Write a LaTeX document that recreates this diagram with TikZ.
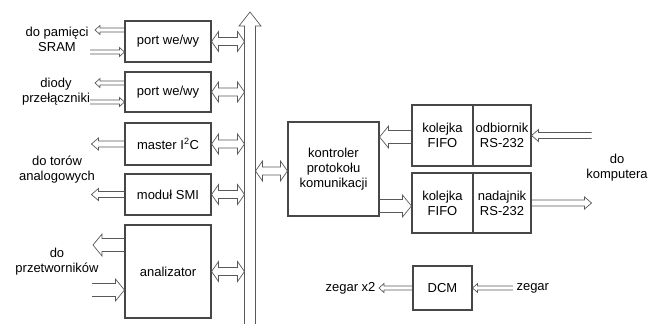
\documentclass[tikz,border=0pt]{standalone}
\usepackage{fontspec}
\setmainfont{Liberation Sans}
\usepackage{tikz}
\usetikzlibrary{calc,positioning}

\tikzset{
  % hollow block arrow, horizontal, open tail
  harrow/.style={draw=black!65, line width=0.7pt, to path={
    let \p1=(\tikztostart), \p2=(\tikztotarget), \n1={sign(\x2-\x1)} in
    (\x1,\y1+\aw) -- (\x2-\n1*\al,\y1+\aw) -- (\x2-\n1*\al,\y1+\ah) -- (\x2,\y1)
    -- (\x2-\n1*\al,\y1-\ah) -- (\x2-\n1*\al,\y1-\aw) -- (\x1,\y1-\aw)}},
  % hollow block arrow with two heads
  hharrow/.style={draw=black!65, line width=0.7pt, to path={
    let \p1=(\tikztostart), \p2=(\tikztotarget), \n1={sign(\x2-\x1)} in
    (\x1,\y1) -- (\x1+\n1*\al,\y1+\ah) -- (\x1+\n1*\al,\y1+\aw) -- (\x2-\n1*\al,\y1+\aw)
    -- (\x2-\n1*\al,\y1+\ah) -- (\x2,\y1) -- (\x2-\n1*\al,\y1-\ah) -- (\x2-\n1*\al,\y1-\aw)
    -- (\x1+\n1*\al,\y1-\aw) -- (\x1+\n1*\al,\y1-\ah) -- cycle}},
  % vertical one for the bus
  varrow/.style={draw=black!65, line width=0.7pt, to path={
    let \p1=(\tikztostart), \p2=(\tikztotarget), \n1={sign(\y2-\y1)} in
    (\x1+\aw,\y1) -- (\x1+\aw,\y2-\n1*\al) -- (\x1+\ah,\y2-\n1*\al) -- (\x1,\y2)
    -- (\x1-\ah,\y2-\n1*\al) -- (\x1-\aw,\y2-\n1*\al) -- (\x1-\aw,\y1)}},
  asize/.code args={#1/#2/#3}{\def\aw{#1}\def\ah{#2}\def\al{#3}},
  sarr/.style={harrow, asize=2pt/4.5pt/5pt},
  marr/.style={harrow, asize=3pt/6pt/7pt},
  larr/.style={harrow, asize=6.5pt/11pt/9pt},
  barr/.style={hharrow, asize=4pt/10pt/7pt},
  busarr/.style={varrow, asize=5.5pt/11pt/14pt}
}

\begin{document}
\begin{tikzpicture}[x=1pt, y=-1pt, font=\fontsize{13}{15}\selectfont,
  blk/.style={draw=black!72, line width=1.1pt, align=center, inner sep=1pt}]
  \useasboundingbox (0,0) rectangle (651,324);

  % left column of modules
  \node[blk, minimum width=86pt, minimum height=41pt] (port1) at (168,41.5) {port we/wy};
  \node[blk, minimum width=86pt, minimum height=40pt] (port2) at (168,92) {port we/wy};
  \node[blk, minimum width=86pt, minimum height=42pt] (master) at (168,144) {master I\textsuperscript{2}C};
  \node[blk, minimum width=86pt, minimum height=41pt] (smi) at (168,194.5) {moduł SMI};
  \node[blk, minimum width=86pt, minimum height=93pt] (anal) at (168,271.5) {analizator};

  % internal bus
  \coordinate (busB) at (250,324);
  \coordinate (busT) at (250,12);
  \coordinate (busL) at (244.5,0);
  \coordinate (busR) at (255.5,0);
  \draw[busarr] (busB) to (busT);
  \foreach \b in {port1,port2,master,smi,anal}
    \draw[barr] (\b.east) to (\b.east -| busL);

  % protocol controller and serial link
  \node[blk, minimum width=91pt, minimum height=94pt] (kont) at (333.5,169)
       {kontroler\\protokołu\\komunikacji};
  \draw[barr] (busR |- 0,171) to (kont.west |- 0,171);
  \node[blk, minimum width=61pt, minimum height=61pt] (fifoR) at (442.5,135.5) {kolejka\\FIFO};
  \node[blk, minimum width=58pt, minimum height=61pt, right=-1.1pt of fifoR] (odb) {odbiornik\\RS-232};
  \node[blk, minimum width=61pt, minimum height=60pt] (fifoT) at (442.5,203) {kolejka\\FIFO};
  \node[blk, minimum width=58pt, minimum height=60pt, right=-1.1pt of fifoT] (nad) {nadajnik\\RS-232};
  \draw[larr] (fifoR.west |- 0,137) to (kont.east |- 0,137);
  \draw[larr] (kont.east |- 0,206) to (fifoT.west |- 0,206);
  \draw[marr] ([xshift=60pt]odb.east) to (odb.east);
  \draw[marr] (nad.east) to ([xshift=60pt]nad.east);
  \node[align=center] (komp) at (617,168) {do\\komputera};

  % clock
  \node[blk, minimum width=59pt, minimum height=44pt] (dcm) at (442.5,288) {DCM};
  \node[anchor=east] (zx2) at (379,288) {zegar x2};
  \node[anchor=west] (zeg) at (513,288) {zegar};
  \draw[sarr] (dcm.west) to (zx2.east);
  \draw[sarr] (zeg.west) to (dcm.east);

  % external signals on the left
  \node[align=center] (sram) at (57,39) {do pamięci\\SRAM};
  \node[align=center] (diod) at (56,92) {diody\\przełączniki};
  \node[align=center] (tory) at (57,170) {do torów\\analogowych};
  \node[align=center] (przetw) at (57,262) {do\\przetworników};
  \draw[sarr] (port1.west |- 0,30) to (95,30);
  \draw[sarr] (90,52) to (port1.west |- 0,52);
  \draw[sarr] (port2.west |- 0,83) to (95,83);
  \draw[sarr] (90,102) to (port2.west |- 0,102);
  \draw[marr] (master.west) to ([xshift=-33pt]master.west);
  \draw[marr] (smi.west) to ([xshift=-33pt]smi.west);
  \draw[larr] (anal.west |- 0,245) to (93,245);
  \draw[larr] (92,290) to (anal.west |- 0,290);
\end{tikzpicture}
\end{document}
